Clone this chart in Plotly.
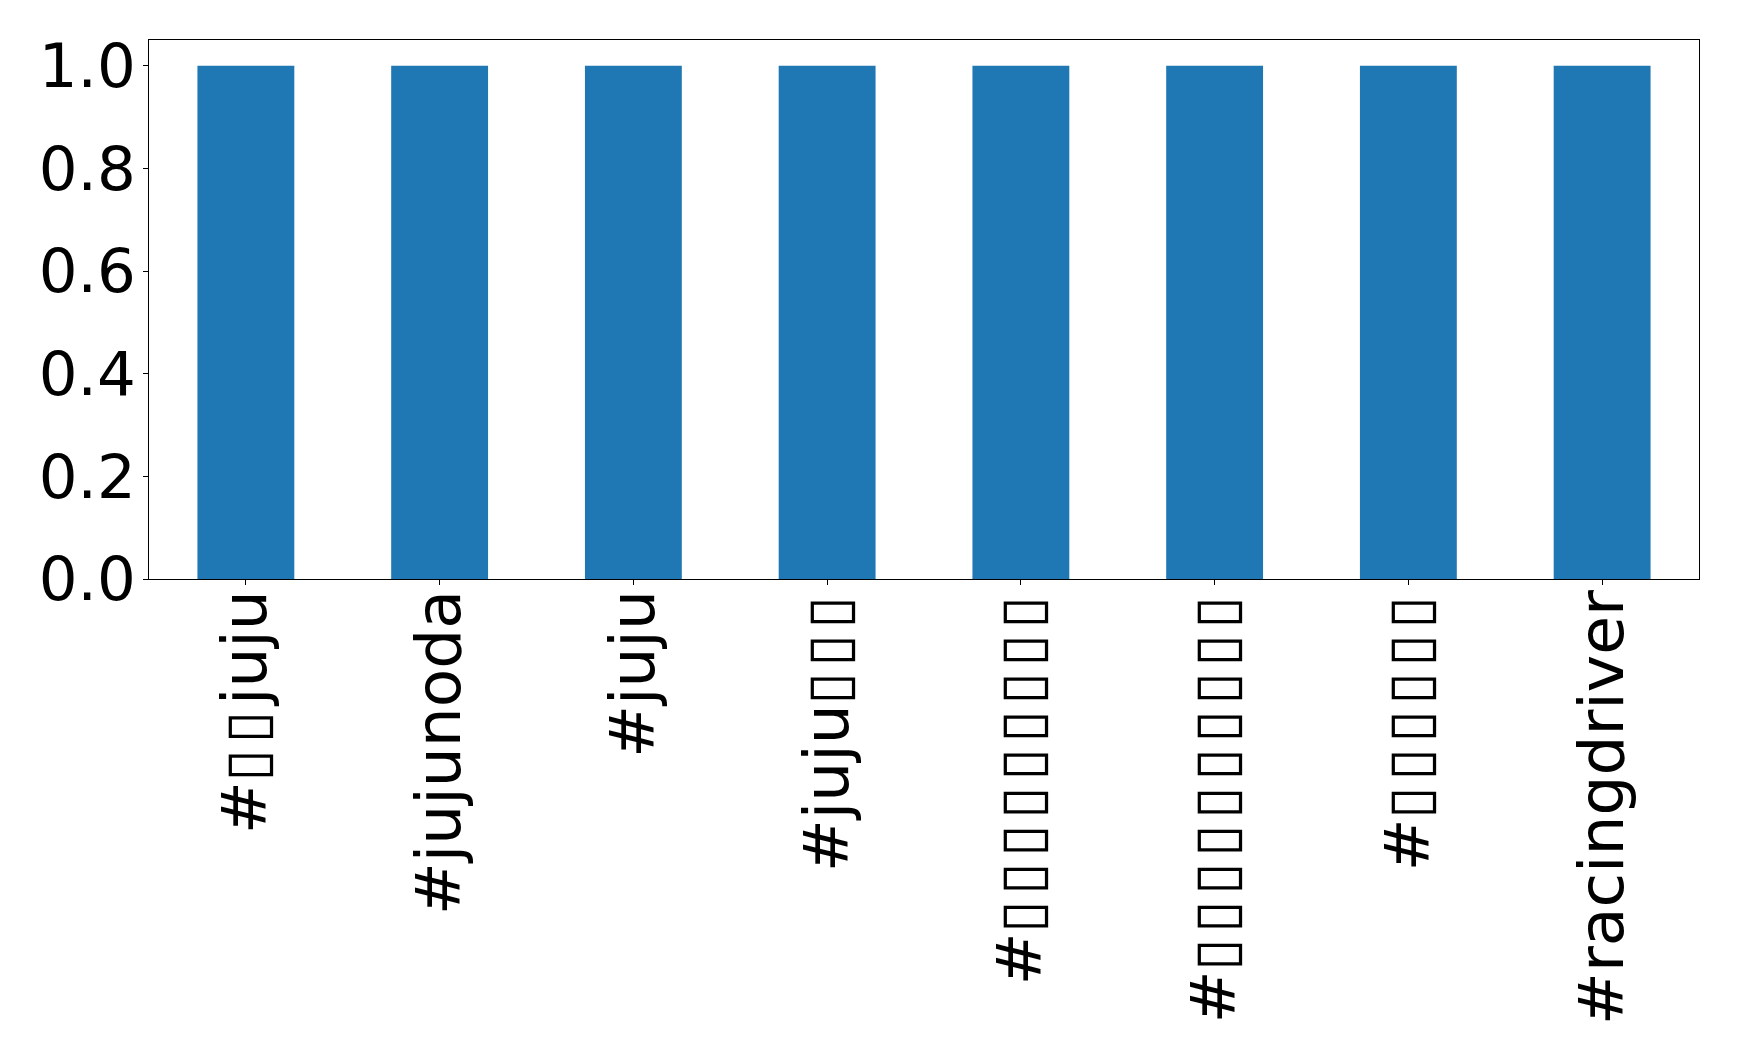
import plotly.graph_objects as go

B = '<span style="font-size:58.5px">▯\u200a</span>'
categories = ["#" + B * 2 + "juju", "#jujunoda", "#juju", "#juju" + B * 3, "#" + B * 9,
              "#" + B * 10, "#" + B * 6, "#racingdriver"]
values = [1, 1, 1, 1, 1, 1, 1, 1]
y_ticks = [0.0, 0.2, 0.4, 0.6, 0.8, 1.0]

fig = go.Figure(go.Bar(x=list(range(len(categories))), y=values, width=0.5,
                       marker=dict(color="#1f77b4", line=dict(width=0))))

font = dict(family="DejaVu Sans", size=63, color="black")
yfont = dict(family="DejaVu Sans", size=61, color="black")
fig.update_layout(
    width=1739, height=1060,
    margin=dict(l=141, r=48, t=32, b=489),
    plot_bgcolor="white", paper_bgcolor="white",
    showlegend=False, font=font,
)
fig.update_xaxes(range=[-0.5, 7.5], tickmode="array",
                 tickvals=list(range(len(categories))), ticktext=categories,
                 tickangle=-90, ticks="outside", ticklen=5, tickcolor="black",
                 ticklabelstandoff=-20,
                 showline=True, linecolor="black", linewidth=1, mirror=True,
                 showgrid=False, zeroline=False, tickfont=font)
fig.update_yaxes(range=[0, 1.05], tickmode="array", tickvals=y_ticks,
                 ticktext=[f"{v:.1f}" for v in y_ticks],
                 ticks="outside", ticklen=5, tickcolor="black",
                 ticklabelstandoff=-5,
                 showline=True, linecolor="black", linewidth=1, mirror=True,
                 showgrid=False, zeroline=False, tickfont=yfont)
fig.write_html("out.html")
